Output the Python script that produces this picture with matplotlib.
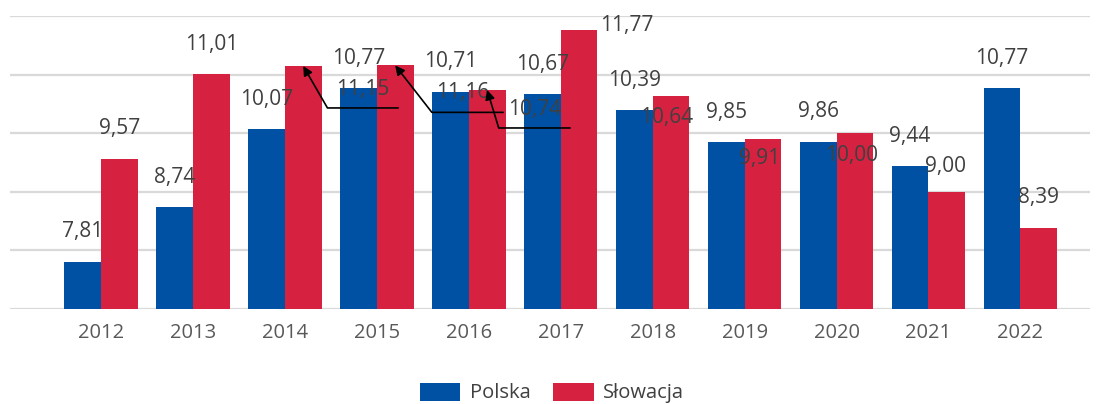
import numpy as np
import matplotlib
matplotlib.use("Agg")
import matplotlib.pyplot as plt

# ---------------- DATA ----------------
years = ["2012", "2013", "2014", "2015", "2016", "2017",
         "2018", "2019", "2020", "2021", "2022"]
polska = [7.81, 8.74, 10.07, 10.77, 10.71, 10.67, 10.39, 9.85, 9.86, 9.44, 10.77]
slowacja = [9.57, 11.01, 11.15, 11.16, 10.74, 11.77, 10.64, 9.91, 10.00, 9.00, 8.39]

BLUE = "#0051a3"
RED = "#d62240"
TXT = "#404040"

plt.rcParams["font.family"] = ["Open Sans", "DejaVu Sans"]

fig = plt.figure(figsize=(10.98, 4.04), dpi=100)
ax = fig.add_axes([0.009, 0.235, 0.984, 0.725])

x = np.arange(len(years))
w = 0.4
b1 = ax.bar(x - w / 2, polska, w, color=BLUE, label="Polska")
b2 = ax.bar(x + w / 2, slowacja, w, color=RED, label="Słowacja")

ax.set_ylim(7, 12)
ax.set_xlim(-0.99, 10.76)
ax.set_yticks(np.arange(7, 12.1, 1))
ax.yaxis.grid(True, color="#d9d9d9", linewidth=1.6)
ax.set_axisbelow(True)
ax.tick_params(axis="y", left=False, labelleft=False)
ax.tick_params(axis="x", length=0, pad=10, labelsize=14.5, labelcolor="#595959")
ax.set_xticks(x)
ax.set_xticklabels(years)
for s in ax.spines.values():
    s.set_visible(False)


def fmt(v):
    return f"{v:.2f}".replace(".", ",")


# label offsets in pixels (default: centred 30 px above the bar top)
pl_off = {}
sk_off = {2: (60, -24), 3: (68, -27), 4: (48, -20), 5: (48, 4),
          6: (-4, -22), 7: (-3, -20), 8: (-3, -22), 9: (-1, 25)}
# leader lines: (end of horizontal segment offset, angle of diagonal)
sk_lead = {2: ((95, -42), 120), 3: ((108, -47), 128), 4: ((83, -38), 107)}

for i in range(len(years)):
    for bars, vals, offs, xs in ((b1, polska, pl_off, x - w / 2),
                                 (b2, slowacja, sk_off, x + w / 2)):
        dx, dy = offs.get(i, (0, 30))
        ax.annotate(fmt(vals[i]), xy=(xs[i], vals[i]), xytext=(dx, dy),
                    textcoords="offset pixels", ha="center", va="center",
                    fontsize=15, color=TXT, annotation_clip=False)
    if i in sk_lead:
        (ex, ey), ang = sk_lead[i]
        ax.annotate("", xy=(x[i] + w / 2, slowacja[i]), xytext=(ex, ey),
                    textcoords="offset pixels", annotation_clip=False,
                    arrowprops=dict(arrowstyle="-|>", color="black", lw=1.2,
                                    shrinkA=0, shrinkB=0, mutation_scale=14,
                                    connectionstyle=f"angle,angleA=0,angleB={ang},rad=0"))

fig.legend(loc="center", bbox_to_anchor=(552 / 1098, 1 - 393 / 404), ncol=2,
           frameon=False, fontsize=14.5, handlelength=2.0, handleheight=1.0,
           handletextpad=0.45, columnspacing=1.15, labelcolor=TXT)

fig.savefig("out.png", dpi=100)
